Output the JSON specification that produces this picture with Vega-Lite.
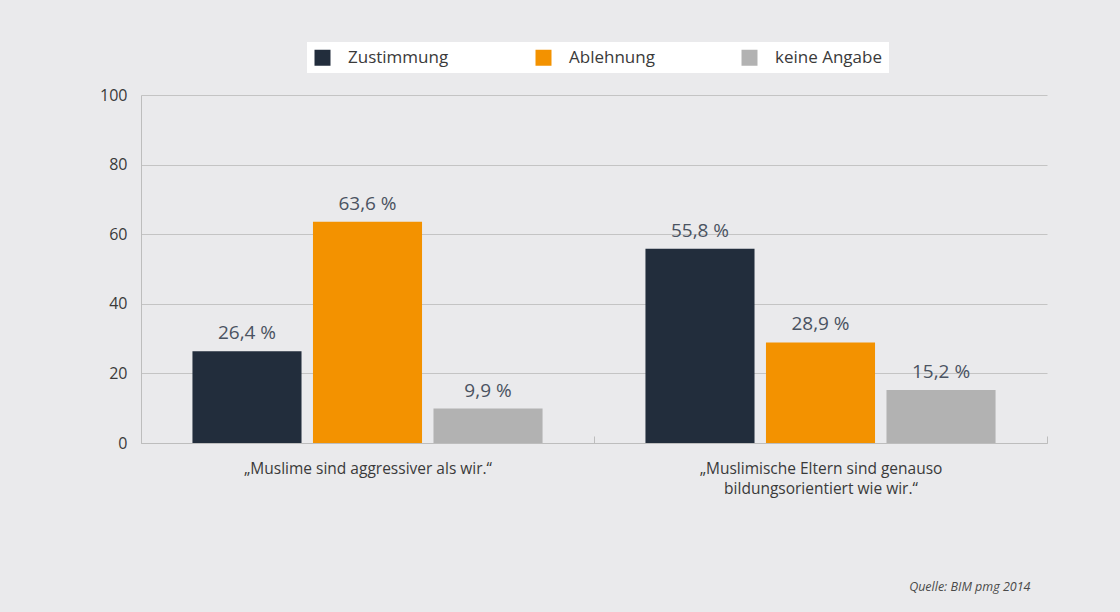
{
  "$schema": "https://vega.github.io/schema/vega-lite/v6.json",
  "width": 906,
  "height": 348,
  "autosize": {"type": "none"},
  "padding": {"left": 141, "top": 95, "right": 73, "bottom": 169},
  "background": "#eaeaec",
  "title": {
    "text": "Quelle: BIM pmg 2014",
    "orient": "bottom",
    "anchor": "end",
    "offset": 84,
    "dx": -17,
    "font": "Open Sans",
    "fontSize": 12.5,
    "fontStyle": "italic",
    "fontWeight": "normal",
    "color": "#4a4a4a"
  },
  "data": {
    "values": [
      {"aussage": "„Muslime sind aggressiver als wir.“", "antwort": "Zustimmung", "wert": 26.4},
      {"aussage": "„Muslime sind aggressiver als wir.“", "antwort": "Ablehnung", "wert": 63.6},
      {"aussage": "„Muslime sind aggressiver als wir.“", "antwort": "keine Angabe", "wert": 9.9},
      {"aussage": "„Muslimische Eltern sind genauso|bildungsorientiert wie wir.“", "antwort": "Zustimmung", "wert": 55.8},
      {"aussage": "„Muslimische Eltern sind genauso|bildungsorientiert wie wir.“", "antwort": "Ablehnung", "wert": 28.9},
      {"aussage": "„Muslimische Eltern sind genauso|bildungsorientiert wie wir.“", "antwort": "keine Angabe", "wert": 15.2}
    ]
  },
  "transform": [
    {"calculate": "replace(format(datum.wert, '.1f'), '.', ',') + ' %'", "as": "beschriftung"}
  ],
  "encoding": {
    "x": {
      "field": "aussage",
      "type": "nominal",
      "sort": null,
      "scale": {"paddingInner": 0, "paddingOuter": 0},
      "axis": {
        "title": null,
        "labelAngle": 0,
        "labelExpr": "split(datum.label, '|')",
        "labelFont": "Open Sans",
        "labelFontSize": 15.5,
        "labelColor": "#3a3a3a",
        "labelPadding": 25,
        "labelLineHeight": 20,
        "labelBaseline": "top",
        "labelLimit": 500,
        "tickBand": "extent",
        "tickSize": -7,
        "tickColor": "#bdbdbd",
        "domainColor": "#bdbdbd",
        "grid": false
      }
    },
    "xOffset": {
      "field": "antwort",
      "type": "nominal",
      "sort": ["Zustimmung", "Ablehnung", "keine Angabe"],
      "scale": {"paddingInner": 0.095, "paddingOuter": 0.427}
    },
    "y": {
      "field": "wert",
      "type": "quantitative",
      "scale": {"domain": [0, 100]},
      "axis": {
        "title": null,
        "values": [0, 20, 40, 60, 80, 100],
        "ticks": false,
        "labelFont": "Open Sans",
        "labelFontSize": 16,
        "labelColor": "#3a3a3a",
        "labelPadding": 14,
        "domainColor": "#bdbdbd",
        "gridColor": "#c4c4c4",
        "labelBaseline": "middle"
      }
    }
  },
  "layer": [
    {
      "mark": {"type": "bar"},
      "encoding": {
        "color": {
          "field": "antwort",
          "type": "nominal",
          "sort": ["Zustimmung", "Ablehnung", "keine Angabe"],
          "scale": {
            "domain": ["Zustimmung", "Ablehnung", "keine Angabe"],
            "range": ["#222d3c", "#f39200", "#b2b2b2"]
          },
          "legend": {
            "title": null,
            "orient": "none",
            "legendX": 166,
            "legendY": -53,
            "direction": "horizontal",
            "fillColor": "#ffffff",
            "padding": 7,
            "symbolType": "square",
            "symbolSize": 256,
            "symbolStrokeWidth": 0,
            "symbolOpacity": 1,
            "labelFont": "Open Sans",
            "labelFontSize": 17,
            "labelColor": "#3a3a3a",
            "labelOffset": 17,
            "columnPadding": 86,
            "labelLimit": 300
          }
        }
      }
    },
    {
      "mark": {
        "type": "text",
        "baseline": "bottom",
        "dy": -8,
        "font": "Open Sans",
        "fontSize": 19,
        "color": "#4a5361"
      },
      "encoding": {
        "text": {"field": "beschriftung", "type": "nominal"}
      }
    }
  ],
  "config": {
    "view": {"stroke": null}
  }
}
